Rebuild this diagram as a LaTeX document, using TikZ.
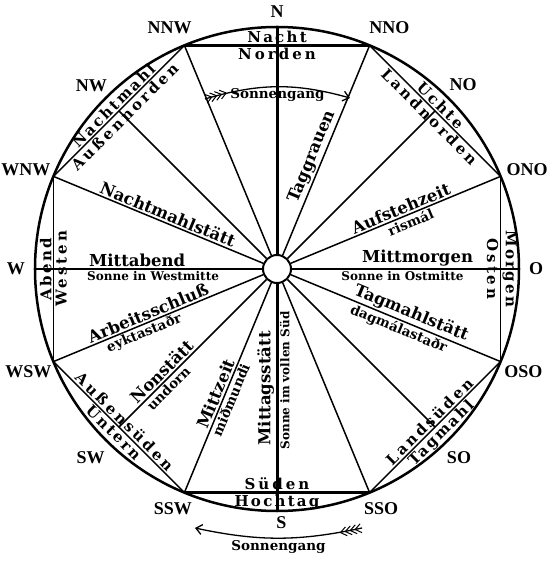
\documentclass[tikz,border=0pt]{standalone}
\usepackage{fontspec}
\usepackage{tikz}
\usetikzlibrary{arrows.meta}
\newfontfamily\frakfont{DejaVu Serif}
\newfontfamily\segfont[LetterSpace=15]{DejaVu Serif}
\newfontfamily\edgefont[LetterSpace=20]{DejaVu Serif}
\newfontfamily\windfont{Liberation Serif}
\tikzset{
  wind/.style={font=\windfont\bfseries\fontsize{18}{18}\selectfont, inner sep=0pt},
  mainlbl/.style={font=\frakfont\bfseries\fontsize{16.5}{16.5}\selectfont, inner sep=1.5pt},
  sublbl/.style={font=\frakfont\bfseries\fontsize{12}{12}\selectfont, inner sep=1.5pt},
  oldlbl/.style={font=\frakfont\bfseries\fontsize{13.5}{13.5}\selectfont, inner sep=1.5pt},
  seglbl/.style={font=\segfont\bfseries\fontsize{15}{15}\selectfont, inner sep=1.2pt},
  edgelbl/.style={font=\edgefont\bfseries\fontsize{15}{15}\selectfont, inner sep=1.5pt},
  ray/.style={line width=1.5pt},
  midray/.style={line width=2pt},
  meridian/.style={line width=3pt},
  chord/.style={line width=1.5pt},
  heavychord/.style={line width=2.7pt},
  sunarrow/.style={line width=1.3pt, -{Straight Barb[length=6pt,width=10pt]}},
  feather/.style={line width=1pt}
}

\begin{document}
\begin{tikzpicture}[x=1pt, y=1pt]
  \path[use as bounding box, fill=white] (-277,-298) rectangle (273,269);
  \coordinate (N) at (90:242);
  \coordinate (O) at (0:242);
  \coordinate (S) at (-90:242);
  \coordinate (W) at (180:242);
  \coordinate (NNO) at (67.5:242);
  \coordinate (ONO) at (22.5:242);
  \coordinate (OSO) at (-22.5:242);
  \coordinate (SSO) at (-67.5:242);
  \coordinate (SSW) at (-112.5:242);
  \coordinate (WSW) at (-157.5:242);
  \coordinate (WNW) at (157.5:242);
  \coordinate (NNW) at (112.5:242);
  \coordinate (mNO) at (45:223.6);
  \coordinate (mSO) at (-45:223.6);
  \coordinate (mSW) at (-135:223.6);
  \coordinate (mNW) at (135:223.6);
  \draw[line width=2.5pt] (0,0) circle[radius=242];
  \node[circle, draw, line width=2pt, minimum size=28pt, inner sep=0pt, fill=white] (M) at (0,0) {};
  \draw[heavychord] (NNW) -- (NNO) node[midway, above, seglbl] (tNacht) {Nacht} node[midway, below, edgelbl] (tNorden) {Norden};
  \draw[chord] (NNO) -- (ONO) node[midway, sloped, above, seglbl] (tUchte) {Uchte} node[midway, sloped, below, edgelbl] (tLandnorden) {Landnorden};
  \draw[chord] (ONO) -- (OSO) node[midway, above, rotate=-90, seglbl] (tMorgen) {Morgen} node[midway, below, rotate=-90, edgelbl] (tOsten) {Osten};
  \draw[chord] (OSO) -- (SSO) node[midway, sloped, below, seglbl] (tTagmahl) {Tagmahl} node[midway, sloped, above, edgelbl] (tLandsueden) {Landsüden};
  \draw[heavychord] (SSO) -- (SSW) node[midway, below, seglbl] (tHochtag) {Hochtag} node[midway, above, edgelbl] (tSueden) {Süden};
  \draw[chord] (SSW) -- (WSW) node[midway, sloped, below, seglbl] (tUntern) {Untern} node[midway, sloped, above, edgelbl] (tAussensueden) {Außensüden};
  \draw[chord] (WSW) -- (WNW) node[midway, above, rotate=90, seglbl] (tAbend) {Abend} node[midway, below, rotate=90, edgelbl] (tWesten) {Westen};
  \draw[chord] (WNW) -- (NNW) node[midway, sloped, above, seglbl] (tNachtmahl) {Nachtmahl} node[midway, sloped, below, edgelbl] (tAussennorden) {Außennorden};
  \draw[meridian] (N) -- (M);
  \draw[meridian] (M) -- (S) node[pos=0.46, above, rotate=90, mainlbl] (tMittag) {Mittagsstätt} node[pos=0.425, below, rotate=90, sublbl] (tVollSued) {Sonne im vollen Süd};
  \draw[midray] (W) -- (M) node[pos=0.45, sloped, above, mainlbl] (tMittabend) {Mittabend} node[pos=0.52, sloped, below, sublbl] (tWestmitte) {Sonne in Westmitte};
  \draw[midray] (M) -- (O) node[pos=0.553, sloped, above, mainlbl] (tMittmorgen) {Mittmorgen} node[pos=0.487, sloped, below, sublbl] (tOstmitte) {Sonne in Ostmitte};
  \draw[ray] (WNW) -- (M) node[pos=0.53, sloped, above, mainlbl] (tNachtmahlst) {Nachtmahlstätt};
  \draw[ray] (WSW) -- (M) node[pos=0.467, sloped, above, mainlbl] (tArbeit) {Arbeitsschluß} node[pos=0.417, sloped, below, oldlbl] (tEykt) {eyktastaðr};
  \draw[ray] (mSW) -- (M) node[pos=0.335, sloped, above, mainlbl] (tNon) {Nonstätt} node[pos=0.30, sloped, below, oldlbl] (tUndorn) {undorn};
  \draw[ray] (SSW) -- (M) node[pos=0.456, sloped, above, mainlbl] (tMittzeit) {Mittzeit} node[pos=0.455, sloped, below, oldlbl] (tMidmundi) {miðmundi};
  \draw[ray] (SSO) -- (M);
  \draw[ray] (mSO) -- (M);
  \draw[ray] (M) -- (OSO) node[pos=0.555, sloped, above, mainlbl] (tTagmahlst) {Tagmahlstätt} node[pos=0.53, sloped, below, oldlbl] (tDagmal) {dagmálastaðr};
  \draw[ray] (M) -- (ONO) node[pos=0.54, sloped, above, mainlbl] (tAufsteh) {Aufstehzeit} node[pos=0.557, sloped, below, oldlbl] (tRismal) {rismál};
  \draw[ray] (M) -- (mNO);
  \draw[ray] (M) -- (NNO) node[pos=0.45, sloped, above, mainlbl] (tTaggrauen) {Taggrauen};
  \draw[ray] (M) -- (NNW);
  \draw[ray] (M) -- (mNW);
  \node[wind] (lN) at (90:257) {N};
  \node[wind] (lNNO) at (65:266) {NNO};
  \node[wind] (lNO) at (44.7:262) {NO};
  \node[wind] (lONO) at (21.6:269) {ONO};
  \node[wind] (lO) at (0:259) {O};
  \node[wind] (lOSO) at (-22.7:267) {OSO};
  \node[wind] (lSO) at (-46:262) {SO};
  \node[wind] (lSSO) at (-66.5:261) {SSO};
  \node[wind] (lS) at (-89:254) {S};
  \node[wind] (lSSW) at (-113.5:261) {SSW};
  \node[wind] (lSW) at (-134.7:265) {SW};
  \node[wind] (lWSW) at (-157.5:269) {WSW};
  \node[wind] (lW) at (180:261) {W};
  \node[wind] (lWNW) at (158.5:270) {WNW};
  \node[wind] (lNW) at (135.3:261) {NW};
  \node[wind] (lNNW) at (114:264) {NNW};
  \coordinate (sunA) at (-72,170);
  \coordinate (sunB) at (73,171);
  \coordinate (sunC) at (85,-259);
  \coordinate (sunD) at (-82,-259);
  \draw[sunarrow] (sunA) to[bend left=16] node[midway, below, oldlbl] (tSunTop) {Sonnengang} (sunB);
  \draw[sunarrow] (sunC) to[bend left=12] node[midway, below, oldlbl] (tSunBot) {Sonnengang} (sunD);
  \begin{scope}[shift={(sunA)}, rotate=16]
    \foreach \k in {0,5,10,15}
      \draw[feather] (\k+7,0) -- ++(-6,4.5) (\k+7,0) -- ++(-6,-4.5);
  \end{scope}
  \begin{scope}[shift={(sunC)}, rotate=192]
    \foreach \k in {0,5,10,15}
      \draw[feather] (\k+7,0) -- ++(-6,4.5) (\k+7,0) -- ++(-6,-4.5);
  \end{scope}
\end{tikzpicture}
\end{document}
